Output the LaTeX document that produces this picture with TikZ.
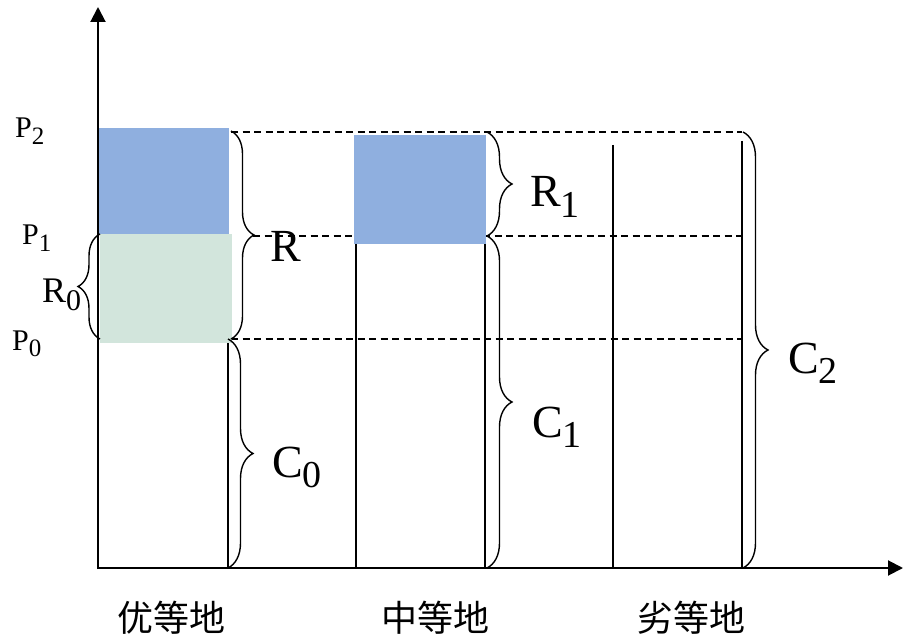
\documentclass[tikz,border=0pt]{standalone}
\usepackage{fontspec}
\setmainfont{Liberation Serif}
\newfontfamily\cjk{Noto Sans CJK SC}
\usetikzlibrary{arrows.meta,decorations.pathreplacing}
\newcommand\lbl[3]{#1\raisebox{-0.22em}{\fontsize{#3}{#3}\selectfont #2}}
\begin{document}
\begin{tikzpicture}[x=1pt,y=-1pt,
  vline/.style={line width=1.5pt},
  dashline/.style={line width=1.3pt,dash pattern=on 7pt off 4.5pt},
  axis/.style={line width=2pt,-{Triangle[length=15pt,width=15pt]}},
  bracestyle/.style={line width=1.4pt,decorate,decoration={brace,amplitude=#1}},
  bracestyle/.default=25pt,
  biglbl/.style={anchor=base west,inner sep=0pt,font=\fontsize{46}{46}\selectfont},
  plbl/.style={anchor=base west,inner sep=0pt,font=\fontsize{30}{30}\selectfont},
  cnlbl/.style={inner sep=0pt,font=\cjk\fontsize{36}{36}\selectfont}]
\useasboundingbox[fill=white] (0,0) rectangle (903,639);
\definecolor{boxblue}{RGB}{143,175,223}
\definecolor{boxgreen}{RGB}{210,229,220}
% dashed price levels
\draw[dashline] (231,132) -- (742,132);
\draw[dashline] (253,236) -- (742,236);
\draw[dashline] (231,339) -- (742,339);
% coloured boxes
\fill[boxblue] (98,128) rectangle (229,234);
\fill[boxgreen] (100,234) rectangle (232,343);
\fill[boxblue] (354,135) rectangle (486,244);
% column lines
\draw[vline] (228,343) -- (228,568);
\draw[vline] (356,244) -- (356,568);
\draw[vline] (485,244) -- (485,568);
\draw[vline] (613,145) -- (613,568);
\draw[vline] (742,141) -- (742,568);
% braces
\draw[bracestyle=23pt] (231,131) -- (231,339);
\draw[bracestyle=25pt] (228,339) -- (228,568);
\draw[bracestyle=22pt] (100,339) -- (100,234);
\draw[bracestyle=25pt] (487,132) -- (487,236);
\draw[bracestyle=25pt] (487,236) -- (487,568);
\draw[bracestyle=25pt] (743,132) -- (743,568);
% axes
\draw[axis] (98,569) -- (98,7);
\draw[axis] (97,568) -- (903,568);
% labels
\node[plbl] (p2) at (15,138) {\lbl{P}{2}{25}};
\node[plbl] (p1) at (22,245) {\lbl{P}{1}{25}};
\node[plbl] (p0) at (12,350) {\lbl{P}{0}{25}};
\node[anchor=base west,inner sep=0pt,font=\fontsize{36}{36}\selectfont] (r0) at (42,303) {\lbl{R}{0}{30}};
\node[biglbl] (r) at (270,262) {R};
\node[biglbl] (r1) at (530,207) {\lbl{R}{1}{38}};
\node[biglbl] (c1) at (532,437) {\lbl{C}{1}{38}};
\node[biglbl] (c2) at (788,373) {\lbl{C}{2}{38}};
\node[biglbl] (c0) at (272,477) {\lbl{C}{0}{38}};
\node[cnlbl] (l1) at (171,618) {优等地};
\node[cnlbl] (l2) at (435,618) {中等地};
\node[cnlbl] (l3) at (691,618) {劣等地};
\end{tikzpicture}
\end{document}
